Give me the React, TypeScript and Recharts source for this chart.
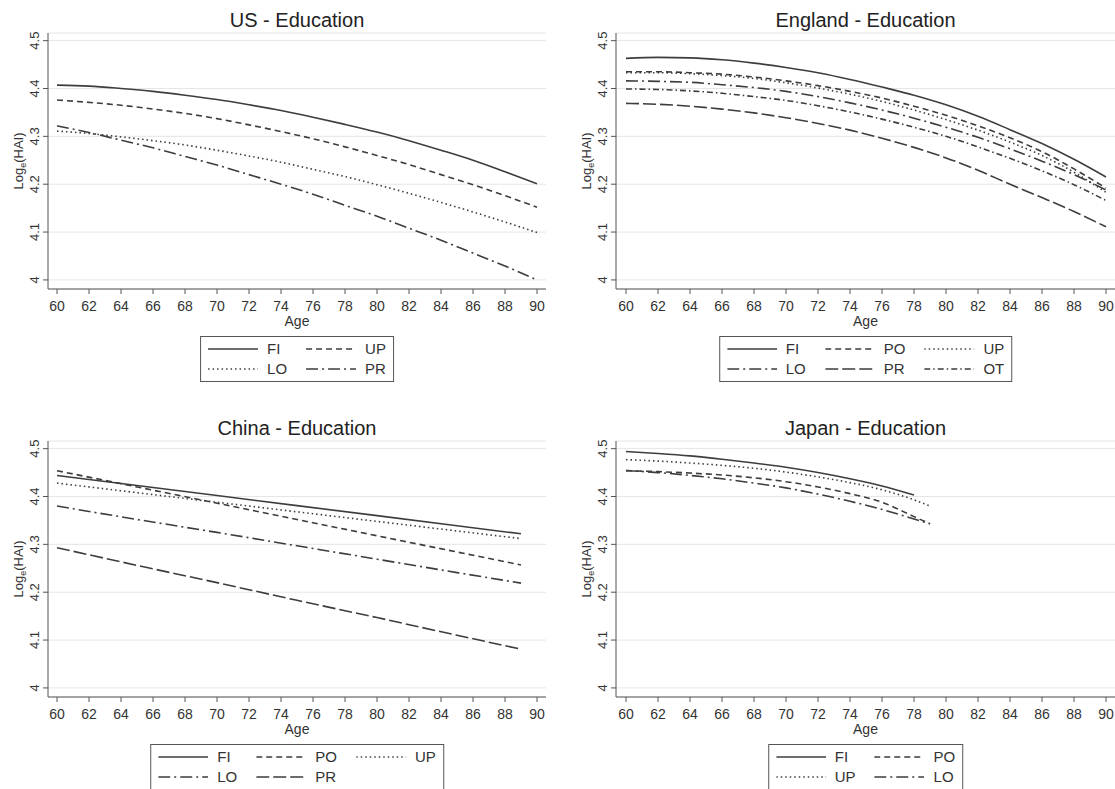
import React from "react";
import { LineChart, Line, XAxis, YAxis, CartesianGrid } from "recharts";

const FONT = '"Liberation Sans", Arial, Helvetica, sans-serif';
const INK = "#333333";
const LINE = "#3d3d3d";

// shared ticks
const ageTicks = [60, 62, 64, 66, 68, 70, 72, 74, 76, 78, 80, 82, 84, 86, 88, 90];
const logTicks = [4, 4.1, 4.2, 4.3, 4.4, 4.5];

// US
const usAges = [60, 62, 64, 66, 68, 70, 72, 74, 76, 78, 80, 82, 84, 86, 88, 90];
const usFI = [4.407, 4.405, 4.4, 4.394, 4.386, 4.377, 4.366, 4.354, 4.34, 4.325, 4.309, 4.291, 4.271, 4.25, 4.226, 4.201];
const usUP = [4.376, 4.371, 4.365, 4.357, 4.348, 4.337, 4.324, 4.31, 4.295, 4.278, 4.26, 4.241, 4.22, 4.199, 4.176, 4.152];
const usLO = [4.311, 4.306, 4.299, 4.291, 4.282, 4.271, 4.259, 4.246, 4.231, 4.216, 4.199, 4.181, 4.162, 4.142, 4.121, 4.099];
const usPR = [4.322, 4.308, 4.292, 4.276, 4.258, 4.24, 4.22, 4.2, 4.179, 4.156, 4.133, 4.108, 4.083, 4.056, 4.029, 4.0];

// England
const enAges = [60, 62, 64, 66, 68, 70, 72, 74, 76, 78, 80, 82, 84, 86, 88, 90];
const enFI = [4.463, 4.465, 4.464, 4.46, 4.453, 4.444, 4.433, 4.419, 4.403, 4.386, 4.366, 4.342, 4.314, 4.285, 4.252, 4.215];
const enPO = [4.435, 4.435, 4.433, 4.43, 4.424, 4.416, 4.406, 4.394, 4.38, 4.363, 4.344, 4.322, 4.297, 4.268, 4.232, 4.192];
const enUP = [4.433, 4.433, 4.431, 4.427, 4.421, 4.412, 4.401, 4.388, 4.373, 4.355, 4.335, 4.313, 4.288, 4.26, 4.225, 4.183];
const enLO = [4.416, 4.415, 4.413, 4.408, 4.402, 4.394, 4.383, 4.37, 4.355, 4.338, 4.319, 4.298, 4.274, 4.248, 4.22, 4.188];
const enPR = [4.369, 4.367, 4.363, 4.357, 4.349, 4.339, 4.327, 4.313, 4.296, 4.277, 4.255, 4.229, 4.2, 4.172, 4.143, 4.111];
const enOT = [4.399, 4.398, 4.395, 4.39, 4.383, 4.375, 4.364, 4.351, 4.336, 4.319, 4.3, 4.278, 4.254, 4.228, 4.199, 4.166];

// China
const cnAges = [60, 65, 70, 75, 80, 85, 89];
const cnFI = [4.444, 4.423, 4.402, 4.381, 4.36, 4.339, 4.322];
const cnPO = [4.454, 4.42, 4.386, 4.352, 4.318, 4.284, 4.257];
const cnUP = [4.428, 4.408, 4.388, 4.368, 4.348, 4.328, 4.312];
const cnLO = [4.38, 4.352, 4.325, 4.297, 4.269, 4.241, 4.219];
const cnPR = [4.293, 4.256, 4.22, 4.183, 4.147, 4.11, 4.081];

// Japan
const jpAges = [60, 62, 64, 66, 68, 70, 72, 74, 76, 78, 79];
const jpFI = [4.494, 4.49, 4.485, 4.478, 4.47, 4.461, 4.45, 4.437, 4.422, 4.403, null];
const jpPO = [4.454, 4.452, 4.449, 4.445, 4.439, 4.431, 4.42, 4.406, 4.388, 4.358, 4.343];
const jpUP = [4.477, 4.474, 4.47, 4.465, 4.459, 4.451, 4.441, 4.429, 4.414, 4.393, 4.38];
const jpLO = [4.454, 4.45, 4.444, 4.437, 4.428, 4.418, 4.405, 4.39, 4.373, 4.353, 4.343];

const DASH = {
  solid: undefined,
  dash: "6 4",
  dot: "1.5 3",
  longDashDot: "12 4 2 4",
  longDash: "13 4",
  dashDot: "6 3 1.5 3",
};

type Series = { key: string; name: string; dash?: string; values: (number | null)[] };

function buildRows(ages: number[], series: Series[]) {
  return ages.map((age, i) => {
    const row: Record<string, number | null> = { age };
    series.forEach((s) => {
      row[s.key] = s.values[i];
    });
    return row;
  });
}

const usSeries: Series[] = [
  { key: "FI", name: "FI", dash: DASH.solid, values: usFI },
  { key: "UP", name: "UP", dash: DASH.dash, values: usUP },
  { key: "LO", name: "LO", dash: DASH.dot, values: usLO },
  { key: "PR", name: "PR", dash: DASH.longDashDot, values: usPR },
];
const enSeries: Series[] = [
  { key: "FI", name: "FI", dash: DASH.solid, values: enFI },
  { key: "PO", name: "PO", dash: DASH.dash, values: enPO },
  { key: "UP", name: "UP", dash: DASH.dot, values: enUP },
  { key: "LO", name: "LO", dash: DASH.longDashDot, values: enLO },
  { key: "PR", name: "PR", dash: DASH.longDash, values: enPR },
  { key: "OT", name: "OT", dash: DASH.dashDot, values: enOT },
];
const cnSeries: Series[] = [
  { key: "FI", name: "FI", dash: DASH.solid, values: cnFI },
  { key: "PO", name: "PO", dash: DASH.dash, values: cnPO },
  { key: "UP", name: "UP", dash: DASH.dot, values: cnUP },
  { key: "LO", name: "LO", dash: DASH.longDashDot, values: cnLO },
  { key: "PR", name: "PR", dash: DASH.longDash, values: cnPR },
];
const jpSeries: Series[] = [
  { key: "FI", name: "FI", dash: DASH.solid, values: jpFI },
  { key: "PO", name: "PO", dash: DASH.dash, values: jpPO },
  { key: "UP", name: "UP", dash: DASH.dot, values: jpUP },
  { key: "LO", name: "LO", dash: DASH.longDashDot, values: jpLO },
];

const YTick = (props: any) => {
  const { x, y, payload } = props;
  const v = payload.value;
  const label = Math.abs(v - 4) < 1e-9 ? "4" : v.toFixed(1);
  return (
    <text
      x={x}
      y={y}
      dy="0.35em"
      transform={`rotate(-90 ${x} ${y})`}
      textAnchor="middle"
      fontSize={13}
      fill={INK}
      fontFamily={FONT}
    >
      {label}
    </text>
  );
};

const YLabel = (props: any) => {
  const vb = props && props.viewBox ? props.viewBox : { x: 0, y: 33, width: 48, height: 256 };
  const x = vb.x + 18;
  const y = vb.y + vb.height / 2;
  return (
    <text
      x={x}
      y={y}
      dy="0.35em"
      transform={`rotate(-90 ${x} ${y})`}
      textAnchor="middle"
      fontSize={13}
      fill={INK}
      fontFamily={FONT}
    >
      <tspan>Log</tspan>
      <tspan dy={3} fontSize={9}>e</tspan>
      <tspan dy={-3}>(HAI)</tspan>
    </text>
  );
};

type PanelProps = {
  title: string;
  series: Series[];
  ages: number[];
  left: number;
  top: number;
  width: number;
  marginRight: number;
  xDomain: [number, number];
  curve: "monotone" | "linear";
  columns: number;
};

function Panel({ title, series, ages, left, top, width, marginRight, xDomain, curve, columns }: PanelProps) {
  const rows = buildRows(ages, series);
  const plotLeft = 48;
  const plotRight = width - marginRight;
  const center = (plotLeft + plotRight) / 2;

  return (
    <div style={{ position: "absolute", left, top, width, height: 394 }}>
      <div
        style={{
          position: "absolute",
          top: 10,
          left: center,
          transform: "translateX(-50%)",
          fontSize: 20,
          lineHeight: "20px",
          color: "#222",
          whiteSpace: "nowrap",
        }}
      >
        {title}
      </div>
      <LineChart
        width={width}
        height={394}
        data={rows}
        margin={{ top: 33, right: marginRight, bottom: 65, left: 0 }}
      >
        <CartesianGrid vertical={false} stroke="#e6e6e6" strokeWidth={1} />
        <XAxis
          dataKey="age"
          type="number"
          domain={xDomain}
          ticks={ageTicks}
          interval={0}
          allowDataOverflow
          height={40}
          tickSize={5}
          tickMargin={7}
          stroke="#555"
          tick={{ fontSize: 14, fill: INK, fontFamily: FONT }}
          label={{ value: "Age", position: "insideBottom", offset: 3, fill: INK, fontSize: 14, fontFamily: FONT }}
        />
        <YAxis
          type="number"
          domain={[3.981, 4.516]}
          ticks={logTicks}
          interval={0}
          allowDataOverflow
          width={48}
          tickSize={5}
          tickMargin={9}
          stroke="#555"
          tick={<YTick />}
          label={{ content: YLabel }}
        />
        {series.map((s) => (
          <Line
            key={s.key}
            dataKey={s.key}
            name={s.name}
            type={curve}
            stroke={LINE}
            strokeWidth={1.6}
            strokeDasharray={s.dash}
            dot={false}
            activeDot={false}
            connectNulls={false}
            isAnimationActive={false}
          />
        ))}
      </LineChart>
      <div
        style={{
          position: "absolute",
          top: 335.5,
          left: center,
          transform: "translateX(-50%)",
          boxSizing: "border-box",
          border: "1.5px solid #555",
          padding: "2px 7px",
          display: "grid",
          gridTemplateColumns: `repeat(${columns}, auto)`,
          columnGap: 19,
          background: "#fff",
        }}
      >
        {series.map((s) => (
          <div key={s.key} style={{ display: "flex", alignItems: "center", height: 20 }}>
            <svg width={50} height={20} style={{ display: "block" }}>
              <line x1={0} y1={10} x2={50} y2={10} stroke={LINE} strokeWidth={1.6} strokeDasharray={s.dash} />
            </svg>
            <span style={{ marginLeft: 9, fontSize: 15, color: INK, lineHeight: "20px" }}>{s.name}</span>
          </div>
        ))}
      </div>
    </div>
  );
}

export default function App() {
  return (
    <div
      style={{
        position: "absolute",
        left: 0,
        top: 0,
        width: 1115,
        height: 789,
        background: "#fff",
        overflow: "hidden",
        fontFamily: FONT,
      }}
    >
      <Panel
        title="US - Education"
        series={usSeries}
        ages={usAges}
        left={0}
        top={0}
        width={557}
        marginRight={11}
        xDomain={[59.4375, 90.5625]}
        curve="monotone"
        columns={2}
      />
      <Panel
        title="England - Education"
        series={enSeries}
        ages={enAges}
        left={568}
        top={0}
        width={547}
        marginRight={0}
        xDomain={[59.375, 90.5625]}
        curve="monotone"
        columns={3}
      />
      <Panel
        title="China - Education"
        series={cnSeries}
        ages={cnAges}
        left={0}
        top={408}
        width={557}
        marginRight={11}
        xDomain={[59.4375, 90.5625]}
        curve="linear"
        columns={3}
      />
      <Panel
        title="Japan - Education"
        series={jpSeries}
        ages={jpAges}
        left={568}
        top={408}
        width={547}
        marginRight={0}
        xDomain={[59.375, 90.5625]}
        curve="monotone"
        columns={2}
      />
    </div>
  );
}
